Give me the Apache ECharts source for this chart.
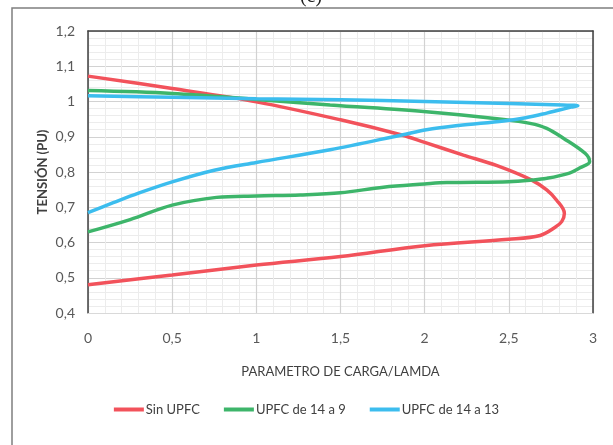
<!DOCTYPE html>
<html>
<head>
<meta charset="utf-8">
<script src="https://cdn.jsdelivr.net/npm/echarts@6/dist/echarts.min.js"></script>
<style>html,body{margin:0;padding:0;background:#fff;}#c{width:613px;height:445px;}</style>
</head>
<body>
<div id="c"></div>
<script>
var seriesNames = ['Sin UPFC', 'UPFC de 14 a 9', 'UPFC de 14 a 13'];
var xTicks = [0, 0.5, 1, 1.5, 2, 2.5, 3];
var yTicks = [0.4, 0.5, 0.6, 0.7, 0.8, 0.9, 1.0, 1.1, 1.2];

var redX = [0, 0.5, 1.0, 1.5, 1.864, 2.0, 2.23, 2.43, 2.636, 2.725, 2.784, 2.83, 2.815, 2.775, 2.686, 2.5, 2.0, 1.5, 1.0, 0.5, 0];
var redY = [1.072, 1.037, 0.999, 0.948, 0.905, 0.884, 0.848, 0.818, 0.777, 0.749, 0.72, 0.683, 0.66, 0.643, 0.62, 0.609, 0.591, 0.56, 0.536, 0.508, 0.48];

var greenX = [0, 0.5, 1.0, 1.438, 2.01, 2.47, 2.626, 2.725, 2.824, 2.953, 2.98, 2.923, 2.86, 2.725, 2.636, 2.5, 2.131, 2.0, 1.755, 1.5, 1.26, 1.0, 0.764, 0.5, 0.25, 0];
var greenY = [1.031, 1.023, 1.006, 0.99, 0.971, 0.949, 0.938, 0.924, 0.896, 0.853, 0.829, 0.812, 0.797, 0.782, 0.777, 0.7725, 0.77, 0.766, 0.757, 0.741, 0.735, 0.732, 0.728, 0.706, 0.665, 0.63];

var blueX = [0, 0.5, 1.0, 1.5, 2.0, 2.5, 2.82, 2.91, 2.87, 2.80, 2.725, 2.6, 2.47, 2.2, 2.01, 1.863, 1.438, 1.0, 0.75, 0.5, 0.3, 0.15, 0];
var blueY = [1.016, 1.012, 1.008, 1.005, 1.0, 0.994, 0.99, 0.988, 0.984, 0.976, 0.967, 0.954, 0.945, 0.932, 0.92, 0.905, 0.863, 0.827, 0.805, 0.772, 0.74, 0.713, 0.685];

var colors = ['#F2525B', '#3DB56A', '#3CBDEE'];

function pairs(xs, ys) { return xs.map(function (x, i) { return [x, ys[i]]; }); }
function comma(v) { return String(Math.round(v * 10) / 10).replace('.', ','); }

var FONT = 'Lato, "Open Sans", sans-serif';
var chart = echarts.init(document.getElementById('c'), null, { renderer: 'canvas' });

var dataSets = [pairs(redX, redY), pairs(greenX, greenY), pairs(blueX, blueY)];

chart.setOption({
  animation: false,
  backgroundColor: '#fff',
  graphic: [
    { type: 'rect', shape: { x: 12, y: 8, width: 700, height: 500 }, style: { fill: 'none', stroke: '#7f7f7f', lineWidth: 1.5 }, z: 0 },
    { type: 'text', x: 311, y: -3, style: { text: '(c)', font: '20px "Liberation Serif", serif', fill: '#222', textAlign: 'center', textVerticalAlign: 'middle' } },
    { type: 'text', x: 43, y: 172, rotation: Math.PI / 2, style: { text: 'TENSIÓN (PU)', font: 'bold 13px ' + FONT, fill: '#404040', textAlign: 'center', textVerticalAlign: 'middle' } }
  ],
  grid: { left: 88, top: 31, width: 505, height: 282, containLabel: false },
  legend: {
    data: seriesNames,
    bottom: 24,
    left: 'center',
    icon: 'rect',
    itemWidth: 30,
    itemHeight: 4,
    itemGap: 24,
    textStyle: { fontFamily: FONT, fontSize: 13, color: '#404040', padding: [0, 0, 0, -3] }
  },
  xAxis: [{
    type: 'value', min: 0, max: 3, interval: 0.5,
    name: 'PARAMETRO DE CARGA/LAMDA', nameLocation: 'middle', nameGap: 52,
    nameTextStyle: { fontFamily: FONT, fontSize: 13, color: '#404040' },
    axisLabel: { formatter: comma, fontFamily: FONT, fontSize: 14, color: '#595959', margin: 18,
      customValues: xTicks },
    axisTick: { show: false },
    axisLine: { show: true, lineStyle: { color: '#d9d9d9', width: 1 } },
    splitLine: { show: true, lineStyle: { color: '#d2d2d2', width: 1.2 } },
    minorTick: { show: false, splitNumber: 5 },
    minorSplitLine: { show: true, lineStyle: { color: '#ececec', width: 1 } }
  }, {
    type: 'value', min: 0, max: 3, position: 'top', interval: 0.5,
    axisLabel: { show: false }, axisTick: { show: false }, splitLine: { show: false },
    axisLine: { show: true, onZero: false, lineStyle: { color: '#404040', width: 1.5 } }
  }],
  yAxis: [{
    type: 'value', min: 0.4, max: 1.2, interval: 0.1,
    axisLabel: { formatter: comma, fontFamily: FONT, fontSize: 14, color: '#595959', margin: 13,
      customValues: yTicks },
    axisTick: { show: false },
    axisLine: { show: true, onZero: false, lineStyle: { color: '#404040', width: 1.5 } },
    splitLine: { show: true, lineStyle: { color: '#d2d2d2', width: 1.2 } },
    minorTick: { show: false, splitNumber: 5 },
    minorSplitLine: { show: true, lineStyle: { color: '#ececec', width: 1 } }
  }, {
    type: 'value', min: 0.4, max: 1.2, position: 'right', interval: 0.1,
    axisLabel: { show: false }, axisTick: { show: false }, splitLine: { show: false },
    axisLine: { show: true, onZero: false, lineStyle: { color: '#404040', width: 1.5 } }
  }],
  series: seriesNames.map(function (n, i) {
    return {
      name: n, type: 'line', data: dataSets[i], smooth: 0.35,
      showSymbol: false, symbol: 'none', xAxisIndex: 0, yAxisIndex: 0,
      lineStyle: { color: colors[i], width: 3.5 }, itemStyle: { color: colors[i] },
      z: 3 + i
    };
  })
});
</script>
</body>
</html>
